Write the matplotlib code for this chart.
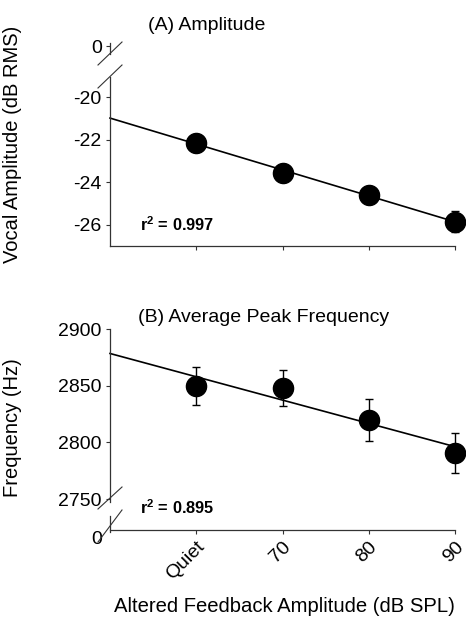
import numpy as np
import matplotlib
matplotlib.use('Agg')
import matplotlib.pyplot as plt
from matplotlib.lines import Line2D

plt.rcParams['font.family'] = ['Liberation Sans', 'DejaVu Sans']
plt.rcParams['mathtext.fontset'] = 'custom'
plt.rcParams['mathtext.rm'] = 'Liberation Sans'
plt.rcParams['mathtext.bf'] = 'Liberation Sans:bold'
plt.rcParams['axes.unicode_minus'] = False

# data
conditions = ['Quiet', '70', '80', '90']
amp_mean = [-22.14, -23.55, -24.6, -25.85]
amp_err = [0.2, 0.25, 0.3, 0.5]
freq_mean = [2849.7, 2848.0, 2819.8, 2790.6]
freq_err = [17, 16, 18.5, 18]
amp_r2 = 0.997
freq_r2 = 0.895

W, H = 466, 624
fig = plt.figure(figsize=(W / 100, H / 100), dpi=100)

def box(x0, y0, x1, y1):
    # pixel box (top-left origin) -> figure fraction rect
    return [x0 / W, 1 - y1 / H, (x1 - x0) / W, (y1 - y0) / H]

def fxy(px, py):
    # pixel point (top-left origin) -> figure fraction
    return px / W, 1 - py / H

spine_col = '#333333'
x = np.arange(len(conditions))
xfit = np.array([-1, 3])

def style(ax):
    for s in ['top', 'right']:
        ax.spines[s].set_visible(False)
    for s in ['left', 'bottom']:
        ax.spines[s].set_color(spine_col)
        ax.spines[s].set_linewidth(0.9)
    ax.tick_params(direction='out', length=3, width=0.8, color=spine_col,
                   labelsize=14, pad=3)
    ax.set_xlim(-1, 3)

# ---- (A) amplitude ----
ax_a = fig.add_axes(box(110, 77, 455, 246))
style(ax_a)
ax_a.set_ylim(-27, -19.06)
ax_a.set_yticks([-26, -24, -22, -20])
ax_a.set_xticks(x)
ax_a.set_xticklabels([])
k, b = np.polyfit(x, amp_mean, 1)
ax_a.plot(xfit, k * xfit + b, color='black', lw=1.2, clip_on=False)
ax_a.errorbar(x, amp_mean, yerr=amp_err, fmt='o', color='black', ms=14.5,
              ecolor='black', elinewidth=1, capsize=3, clip_on=False, zorder=3)
fig.text(*fxy(140, 225), r'r$^{\mathbf{2}}$ = ' + f'{amp_r2:.3f}',
         fontsize=11.8, fontweight='bold', va='center', ha='left')

ax_a0 = fig.add_axes(box(110, 43, 455, 54))
style(ax_a0)
ax_a0.patch.set_visible(False)
ax_a0.spines['bottom'].set_visible(False)
ax_a0.set_ylim(-0.727, 0.273)
ax_a0.set_yticks([0])
ax_a0.set_xticks([])

ax_a.set_ylabel('Vocal Amplitude (dB RMS)', fontsize=14.5)
ax_a.yaxis.set_label_coords(*fxy(22, 144), transform=fig.transFigure)
fig.text(*fxy(148, 25), '(A) Amplitude', fontsize=14, ha='left', va='center')

# ---- (B) average peak frequency ----
ax_b = fig.add_axes(box(110, 329, 455, 502))
style(ax_b)
ax_b.spines['bottom'].set_visible(False)
ax_b.set_ylim(2747.4, 2900)
ax_b.set_yticks([2750, 2800, 2850, 2900])
ax_b.set_xticks([])
k, b = np.polyfit(x, freq_mean, 1)
ax_b.plot(xfit, k * xfit + b, color='black', lw=1.2, clip_on=False)
ax_b.errorbar(x, freq_mean, yerr=freq_err, fmt='o', color='black', ms=14.5,
              ecolor='black', elinewidth=1, capsize=3, clip_on=False, zorder=3)
fig.text(*fxy(140, 508), r'r$^{\mathbf{2}}$ = ' + f'{freq_r2:.3f}',
         fontsize=11.8, fontweight='bold', va='center', ha='left')

ax_b0 = fig.add_axes(box(110, 516, 455, 540))
style(ax_b0)
ax_b0.patch.set_visible(False)
ax_b0.set_ylim(-0.1, 1)
ax_b0.spines['bottom'].set_position(('axes', 10 / 24))
ax_b0.spines['left'].set_bounds(0.27, 1)
ax_b0.set_yticks([0])
ax_b0.tick_params(axis='y', length=0, pad=6)
ax_b0.set_xticks(x)
ax_b0.set_xticklabels(conditions, rotation=45, ha='right', va='top',
                      rotation_mode='anchor')

ax_b.set_ylabel('Frequency (Hz)', fontsize=14.5)
ax_b.yaxis.set_label_coords(*fxy(22, 428), transform=fig.transFigure)
fig.text(*fxy(138, 318), '(B) Average Peak Frequency', fontsize=14,
         ha='left', va='center')
fig.text(*fxy(284, 607), 'Altered Feedback Amplitude (dB SPL)', fontsize=14.6,
         ha='center', va='center')

# axis break marks
for (x0, y0, x1, y1) in [(98, 65, 122, 42), (98, 88, 122, 65),
                         (98, 509, 122, 487), (98, 542, 122, 510)]:
    fig.add_artist(Line2D([x0 / W, x1 / W], [1 - y0 / H, 1 - y1 / H],
                          transform=fig.transFigure, color=spine_col, lw=0.8))

fig.savefig('out.png', dpi=100)
